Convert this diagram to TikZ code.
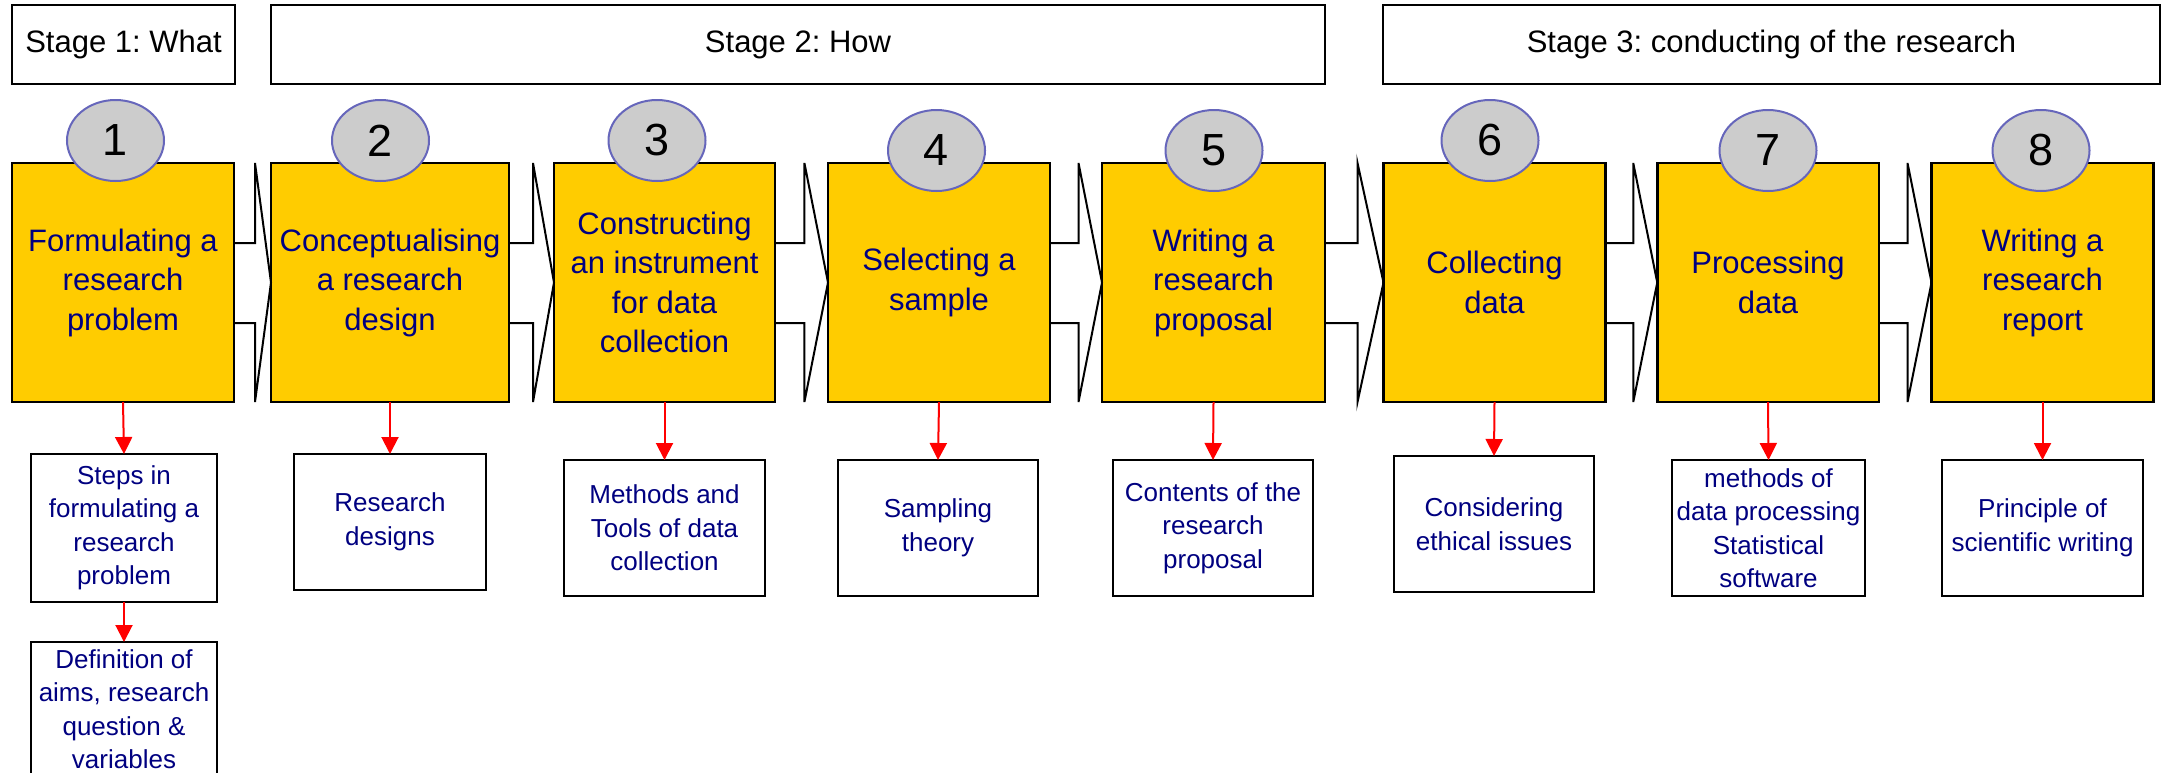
\documentclass[tikz,border=0pt]{standalone}
\usepackage{fontspec}
\setmainfont{Liberation Sans}
\usetikzlibrary{shapes.geometric,arrows.meta,calc}
\definecolor{boxyellow}{RGB}{255,204,0}
\definecolor{txtblue}{RGB}{0,0,128}
\definecolor{ellgray}{RGB}{204,204,204}
\definecolor{ellborder}{RGB}{102,102,187}
\frenchspacing
\newcommand{\mychev}[3]{\draw[conn] ($(#1.east)+(0,-39.5)$) -- ($(#2.west)+(-#3,-39.5)$) -- ($(#2.north west)+(-#3,0)$) -- (#2.west) -- ($(#2.south west)+(-#3,0)$) -- ($(#2.west)+(-#3,40.5)$) -- ($(#1.east)+(0,40.5)$);}
\begin{document}
\begin{tikzpicture}[x=0.5pt,y=-0.5pt,
 stagebox/.style={draw,line width=1.25pt,inner sep=0pt,outer sep=0pt,minimum height=39.5pt,font=\fontsize{15.5}{19}\selectfont},
 stepbox/.style={draw,fill=boxyellow,line width=1.25pt,inner sep=0pt,outer sep=0pt,minimum height=119.5pt,text=txtblue,align=center,font=\fontsize{15.5}{19.75}\selectfont},
 numell/.style={ellipse,draw=ellborder,fill=ellgray,line width=1pt,minimum width=48.5pt,minimum height=40.5pt,inner sep=0pt,font=\fontsize{22.5}{22.5}\selectfont},
 subbox/.style={draw,line width=1pt,inner sep=0pt,outer sep=0pt,minimum height=68pt,text=txtblue,align=center,font=\fontsize{13}{16.75}\selectfont},
 conn/.style={line width=1pt,line join=miter},
 redarrow/.style={red,line width=1pt,-{Triangle[width=8.5pt,length=8.5pt]}}
]
\useasboundingbox (0,0) rectangle (2167,772);
\clip (0,0) rectangle (2167,772);

% stage headers
\node[stagebox,minimum width=111.5pt] (s1) at (123.5,44.5) {Stage 1: What};
\node[stagebox,minimum width=527pt] (s2) at (798,44.5) {Stage 2: How};
\node[stagebox,minimum width=388.5pt] (s3) at (1771.5,44.5) {Stage 3: conducting of the research};

% step boxes
\node[stepbox,minimum width=111pt] (b1) at (123,282.5) {Formulating a\\research\\problem};
\node[stepbox,minimum width=119pt] (b2) at (390,282.5) {Conceptualising\\a research\\design};
\node[stepbox,minimum width=110.5pt] (b3) at (664.5,282.5) {Constructing\\an instrument\\for data\\collection};
\node[stepbox,minimum width=111pt] (b4) at (939,282.5) {Selecting a\\sample};
\node[stepbox,minimum width=111.5pt] (b5) at (1213.5,282.5) {Writing a\\research\\proposal};
\node[stepbox,minimum width=111pt] (b6) at (1494.5,282.5) {Collecting\\data};
\node[stepbox,minimum width=110.75pt] (b7) at (1768,282.5) {Processing\\data};
\node[stepbox,minimum width=111pt] (b8) at (2042.5,282.5) {Writing a\\research\\report};

% block-arrow connectors
\mychev{b1}{b2}{16}
\mychev{b2}{b3}{21}
\mychev{b3}{b4}{23.6}
\mychev{b4}{b5}{23.5}
\mychev{b5}{b6}{26}
\mychev{b6}{b7}{24}
\mychev{b7}{b8}{24}

% number ellipses
\node[numell] (e1) at (115.5,140.5) {1};
\node[numell] (e2) at (380.5,140.5) {2};
\node[numell] (e3) at (657,140.5) {3};
\node[numell] (e4) at (936.5,150.5) {4};
\node[numell] (e5) at (1214,150.5) {5};
\node[numell] (e6) at (1490,140.5) {6};
\node[numell] (e7) at (1768,150.5) {7};
\node[numell] (e8) at (2041,150.5) {8};

% sub boxes
\node[subbox,minimum width=93pt,minimum height=74pt] (a1) at (124,528) {Steps in\\formulating a\\research\\problem};
\node[subbox,minimum width=93pt,minimum height=67pt] (a1b) at (124,709) {Definition of\\aims, research\\question \&\\variables};
\node[subbox,minimum width=96pt] (a2) at (390,522) {Research\\designs};
\node[subbox,minimum width=100.5pt] (a3) at (664.5,528) {Methods and\\Tools of data\\collection};
\node[subbox,minimum width=100pt] (a4) at (938,528) {Sampling\\theory};
\node[subbox,minimum width=100pt] (a5) at (1213,528) {Contents of the\\research\\proposal};
\node[subbox,minimum width=100pt] (a6) at (1494,524) {Considering\\ethical issues};
\node[subbox,minimum width=96.5pt] (a7) at (1768.5,528) {methods of\\data processing\\Statistical\\software};
\node[subbox,minimum width=100.5pt] (a8) at (2042.5,528) {Principle of\\scientific writing};

% red arrows
\draw[redarrow] (b1.south) -- (a1.north);
\draw[redarrow] (a1.south) -- (a1b.north);
\draw[redarrow] (b2.south) -- (a2.north);
\draw[redarrow] (b3.south) -- (a3.north);
\draw[redarrow] (b4.south) -- (a4.north);
\draw[redarrow] (b5.south) -- (a5.north);
\draw[redarrow] (b6.south) -- (a6.north);
\draw[redarrow] (b7.south) -- (a7.north);
\draw[redarrow] (b8.south) -- (a8.north);
\end{tikzpicture}
\end{document}
